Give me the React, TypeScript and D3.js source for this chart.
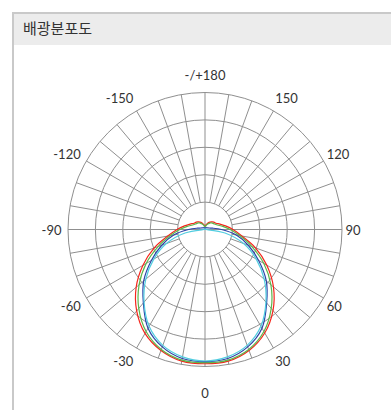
import React from 'react';
import * as d3 from 'd3';

const TITLE = '배광분포도';

// angles in degrees: 0 = straight down, positive toward the right, -/+180 = up
const ANGLES = [-170, -160, -150, -140, -130, -120, -110, -100, -90, -80, -70, -60, -50, -40, -30, -20, -10, 0,
  10, 20, 30, 40, 50, 60, 70, 80, 90, 100, 110, 120, 130, 140, 150, 160, 170, 180];

const RED = [8, 11, 15, 18, 21, 23, 29, 38, 51, 69, 99, 131, 164, 194, 219, 235, 244, 245,
  244, 235, 218, 193, 163, 130, 98, 68, 51, 38, 29, 23, 21, 18, 15, 11, 8, 6];
const GREEN = [6, 9, 12, 16, 18, 20, 24, 33, 46, 64, 91, 124, 157, 188, 215, 233, 242, 243,
  242, 233, 215, 188, 157, 124, 91, 64, 46, 33, 24, 20, 18, 16, 12, 9, 6, 5];
const BLUE = [3, 3, 4, 4, 5, 6, 8, 14, 30, 58, 84, 113, 146, 175, 208, 228, 239, 241,
  239, 228, 208, 175, 146, 113, 84, 58, 30, 14, 8, 6, 5, 4, 4, 3, 3, 2];
const CYAN = [1, 1, 1, 1, 1, 1, 1, 1, 2, 37, 75, 108, 141, 173, 204, 225, 236, 240,
  236, 225, 204, 173, 141, 108, 75, 37, 2, 1, 1, 1, 1, 1, 1, 1, 1, 1];

const SERIES = [
  { name: 'A', values: RED, color: '#f5261c' },
  { name: 'B', values: GREEN, color: '#5db74c' },
  { name: 'C', values: BLUE, color: '#2c44a6' },
  { name: 'D', values: CYAN, color: '#52cde0' },
];

const RADIAL_TICKS = [50, 100, 150, 200, 250];
const LABEL_ANGLES = [-150, -120, -90, -60, -30, 0, 30, 60, 90, 120, 150, 180];
const LABEL_TEXT = ['-150', '-120', '-90', '-60', '-30', '0', '30', '60', '90', '120', '150', '-/+180'];

export default function App() {
  const W = 391, H = 410;
  const cx = 205, cy = 229.5;
  const r = d3.scaleLinear().domain([0, 250]).range([0, 137]);
  const toRad = (deg: number) => Math.PI - (deg * Math.PI) / 180;
  const pt = (deg: number, rad: number): [number, number] => [
    cx + rad * Math.sin((deg * Math.PI) / 180),
    cy + rad * Math.cos((deg * Math.PI) / 180),
  ];

  const line = d3
    .lineRadial<number>()
    .angle((_, i) => toRad(ANGLES[i]))
    .radius((v) => r(v))
    .curve(d3.curveCatmullRomClosed.alpha(0.5));

  const spokes = d3.range(0, 360, 10);
  const gridColor = '#8f8f8f';

  return (
    <svg width={W} height={H} style={{ position: 'absolute', left: 0, top: 0 }}>
      <rect x={0} y={0} width={W} height={H} fill="#fff" />
      <rect x={13} y={13} width={W} height={32} fill="#ececec" />
      <line x1={13} y1={12} x2={13} y2={H} stroke="#c9c9c9" strokeWidth={2} />
      <line x1={12} y1={13} x2={W} y2={13} stroke="#c9c9c9" strokeWidth={2} />
      <text x={23} y={27} fontFamily="'Noto Sans CJK KR', sans-serif" fontSize={15} fill="#333"
        dominantBaseline="central">{TITLE}</text>

      <g fill="none" stroke={gridColor} strokeWidth={1}>
        {RADIAL_TICKS.map((t) => (
          <circle key={t} cx={cx} cy={cy} r={r(t)} />
        ))}
        {spokes.map((a) => {
          const inner = a % 90 === 0 ? 0 : r(RADIAL_TICKS[0]);
          const [x1, y1] = pt(a, inner);
          const [x2, y2] = pt(a, r(RADIAL_TICKS[RADIAL_TICKS.length - 1]));
          return <line key={a} x1={x1} y1={y1} x2={x2} y2={y2} />;
        })}
      </g>

      <g transform={`translate(${cx},${cy})`} fill="none" strokeWidth={1.2}>
        {SERIES.map((s) => (
          <path key={s.name} d={line(s.values) || ''} stroke={s.color} />
        ))}
      </g>

      <g fontFamily="Lato, sans-serif" fontSize={13} fill="#333">
        {LABEL_ANGLES.map((a, i) => {
          const s = Math.sin((a * Math.PI) / 180);
          const c = Math.cos((a * Math.PI) / 180);
          const isCenter = Math.abs(s) < 0.01;
          const L = s < 0 ? 143.5 : 140.5;
          const x = isCenter ? cx : cx + L * s;
          let y = cy + 152 * c;
          if (isCenter) y = c > 0 ? cy + 163 : cy - 154.5;
          const anchor = isCenter ? 'middle' : s < 0 ? 'end' : 'start';
          return (
            <text key={a} x={x} y={y} textAnchor={anchor} dominantBaseline="central">
              {LABEL_TEXT[i]}
            </text>
          );
        })}
      </g>
    </svg>
  );
}
